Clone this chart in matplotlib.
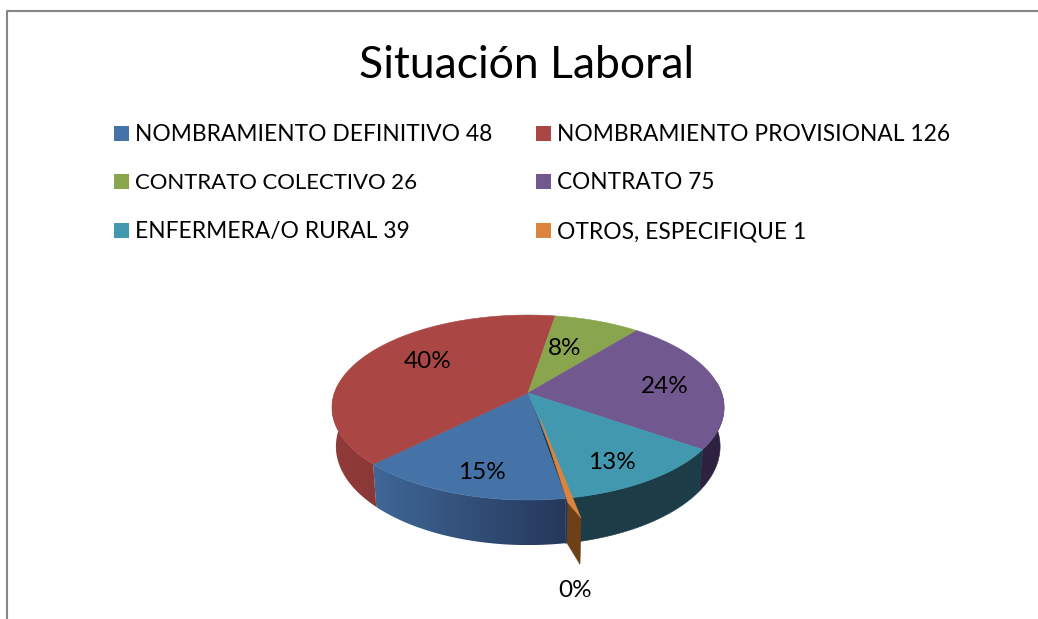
import numpy as np
import matplotlib
matplotlib.use("Agg")
import matplotlib.pyplot as plt
from matplotlib.patches import Polygon, Rectangle

title = "Situación Laboral"
categories = ["NOMBRAMIENTO DEFINITIVO", "NOMBRAMIENTO PROVISIONAL", "CONTRATO COLECTIVO",
              "CONTRATO", "ENFERMERA/O RURAL", "OTROS, ESPECIFIQUE"]
values = [48, 126, 26, 75, 39, 1]
pct_labels = ["15%", "40%", "8%", "24%", "13%", "0%"]
colors = ["#4572a7", "#aa4643", "#89a54e", "#71588f", "#4198af", "#db843d"]
wall_left = ["#3f6797", "#8f3b39", "#6f8640", "#2e2140", "#1c3d48", "#25385a"]
wall_right = ["#25385a", "#8a3836", "#6f8640", "#2e2140", "#1c3d48", "#25385a"]
sliver_wall = "#6e4018"
legend_sizes = [16.4, 16.4, 15.9, 16.3, 16.4, 16.4]

plt.rcParams["font.family"] = ["Lato", "DejaVu Sans"]
W, H = 1038, 619
fig = plt.figure(figsize=(W / 100, H / 100), dpi=100)
ax = fig.add_axes([0, 0, 1, 1])
ax.set_xlim(0, W)
ax.set_ylim(H, 0)
ax.axis("off")

# frame: left and top edges only are visible in the crop
ax.plot([7, 7, W + 5], [H + 5, 11, 11], color="#868686", lw=1.5)

ax.text(526.5, 78, title, fontsize=32, ha="center", va="baseline", color="black")

# legend
leg_x = [114, 536]
leg_y = [126, 174, 223]
for i, (c, v, col) in enumerate(zip(categories, values, colors)):
    lx = leg_x[i % 2]
    ly = leg_y[i // 2]
    ax.add_patch(Rectangle((lx, ly), 15, 15, fc=col, ec="none"))
    ax.text(lx + 21, ly + 15, f"{c} {v}", fontsize=legend_sizes[i], ha="left", va="baseline", color="black")

# perspective pie
CX, CY, A, B, K, D = 528, 393, 90.2, 193.6, 0.157, 38.0

def proj(u, v, depth=0.0):
    den = 1 + K * v
    xs = 1 - 0.02 * (depth > 0)
    return CX + xs * B * u / den, CY - A * v / den + depth * D / den

def arc(a0, a1, n=80):
    t = np.radians(np.linspace(a0, a1, n))
    return np.cos(t), np.sin(t)

frac = np.array(values, float) / sum(values)
sweeps = frac * 360
starts = -80.5 - np.concatenate([[0], np.cumsum(sweeps)[:-1]])
ends = starts - sweeps

# gap left by the exploded slice
i = 5
u, v = arc(starts[i], ends[i], 6)
xa, ya = proj(np.r_[0, u], np.r_[0, v])
ax.add_patch(Polygon(np.c_[xa, ya], fc="#1e3040", ec="#1e3040", lw=0.5, zorder=2))

# walls of the pie slices
for i in range(6):
    u, v = arc(starts[i], ends[i], 200)
    keep = v < 0.12
    if not keep.any():
        continue
    u, v = u[keep], v[keep]
    x0, y0 = proj(u, v)
    x1, y1 = proj(u, v, 1.0)
    pts = np.c_[np.r_[x0, x1[::-1]], np.r_[y0, y1[::-1]]]
    if wall_left[i] == wall_right[i]:
        ax.add_patch(Polygon(pts, fc=wall_left[i], ec=wall_left[i], lw=0.4, zorder=1))
    else:
        patch = Polygon(pts, fc="none", ec="none", zorder=1)
        ax.add_patch(patch)
        ramp = np.linspace(0, 1, 256)[None, :, None]
        c0 = np.array(matplotlib.colors.to_rgb(wall_left[i]))
        c1 = np.array(matplotlib.colors.to_rgb(wall_right[i]))
        img = ax.imshow(c0 + (c1 - c0) * ramp, aspect="auto", zorder=1, interpolation="bilinear",
                        extent=(pts[:, 0].min(), pts[:, 0].max(), pts[:, 1].max(), pts[:, 1].min()))
        img.set_clip_path(patch)
ax.set_xlim(0, W)
ax.set_ylim(H, 0)

# top faces
for i in range(5):
    u, v = arc(starts[i], ends[i], 120)
    xa, ya = proj(np.r_[0, u], np.r_[0, v])
    ax.add_patch(Polygon(np.c_[xa, ya], fc=colors[i], ec=colors[i], lw=0.4, zorder=3))

# exploded sliver: wall, then top face
i = 5
u, v = arc(starts[i], ends[i], 2)
inner_u, inner_v = 0.059, -0.266
rim_u, rim_v = 0.173, -1.023
tip_u, tip_v = u[-1] + 0.06, v[-1] - 0.152
xs, ys = proj(np.array([rim_u, tip_u]), np.array([rim_v, tip_v]))
xb, yb = proj(np.array([rim_u, tip_u]), np.array([rim_v, tip_v]), 1.0)
yb[0] -= 5
ax.add_patch(Polygon(np.c_[np.r_[xs, xb[::-1]], np.r_[ys, yb[::-1]]],
                     fc=sliver_wall, ec=sliver_wall, lw=0.4, zorder=4))
xa, ya = proj(np.array([inner_u, tip_u, rim_u]), np.array([inner_v, tip_v, rim_v]))
ax.add_patch(Polygon(np.c_[xa, ya], fc=colors[5], ec=colors[5], lw=0.3, zorder=5))

# percentage labels
label_pos = [(482, 479), (427.5, 368), (565, 355), (664.5, 393), (612, 469), (575, 597)]
for lab, (px, py) in zip(pct_labels, label_pos):
    ax.text(px, py, lab, fontsize=17.5, ha="center", va="baseline", color="black", zorder=6)

fig.savefig("out.png", dpi=100)
